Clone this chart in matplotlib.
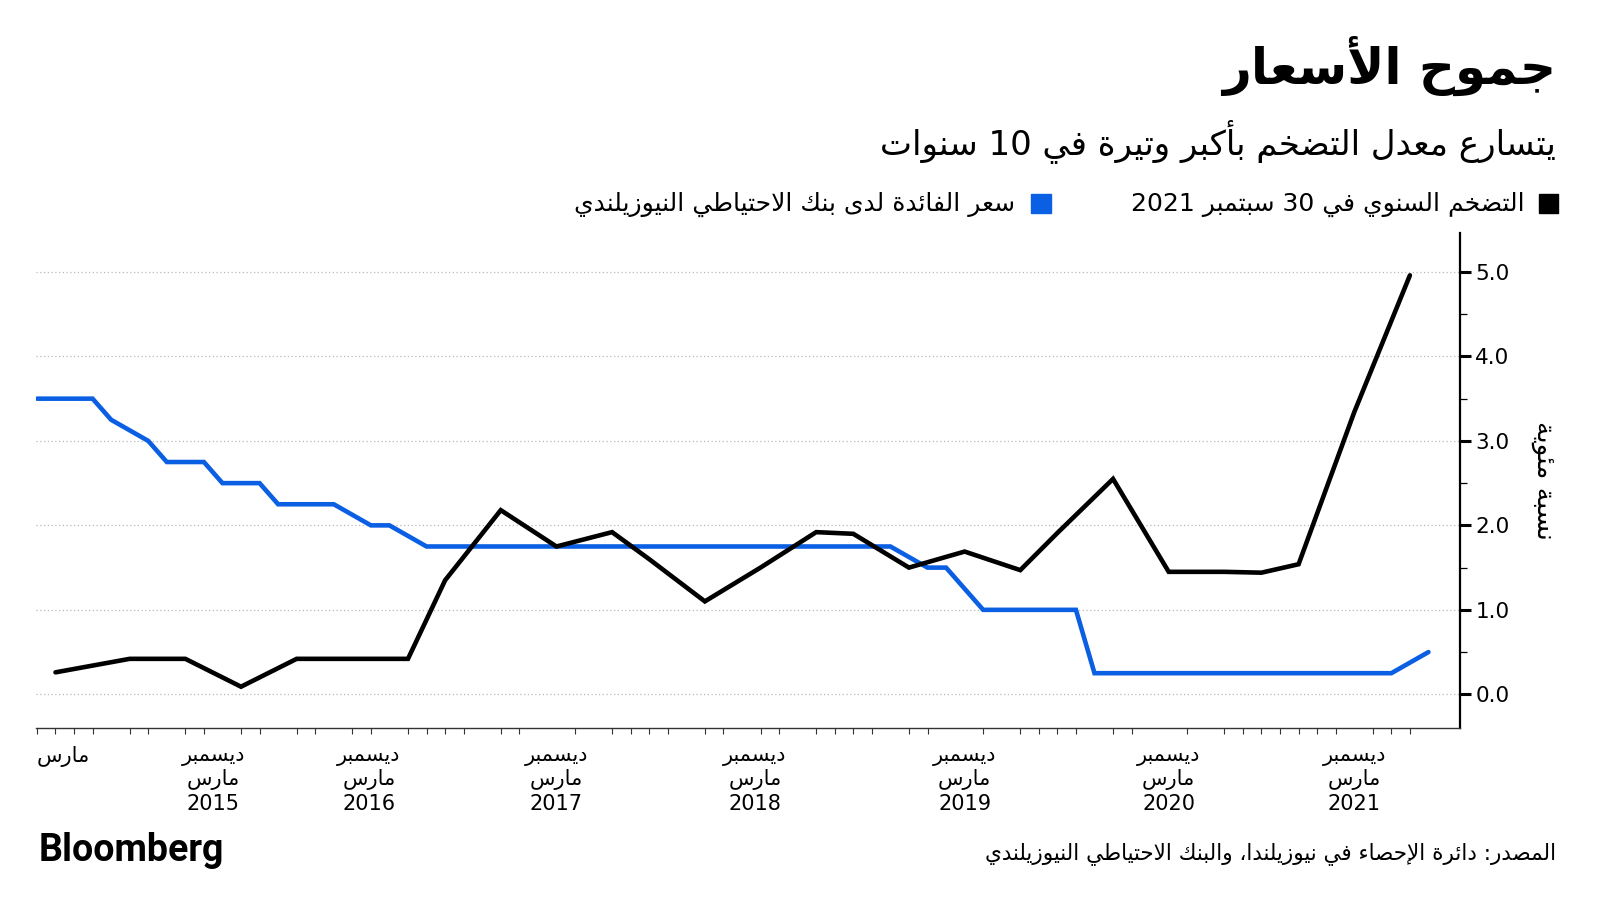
import re
import matplotlib
matplotlib.use("Agg")
import matplotlib.pyplot as plt
from matplotlib.patches import Rectangle
from matplotlib.ticker import MultipleLocator, FormatStrFormatter

# positions are slots on the chart's own (uneven) date axis, values in percent
cpi_x = [1, 5, 8, 11, 14, 20, 22, 25, 28, 31, 33, 36, 39, 42, 44, 47, 50, 53, 55, 58, 61, 64, 66, 68, 71, 74]
cpi = [0.26, 0.42, 0.42, 0.09, 0.42, 0.42, 1.35, 2.18, 1.75, 1.92, 1.60, 1.10, 1.50, 1.92, 1.90,
       1.50, 1.69, 1.47, 1.91, 2.55, 1.45, 1.45, 1.44, 1.54, 3.34, 4.96]
ocr_x = [0, 3, 4, 6, 7, 9, 10, 12, 13, 16, 18, 19, 21, 46, 48, 49, 51, 56, 57, 73, 75]
ocr = [3.5, 3.5, 3.25, 3.0, 2.75, 2.75, 2.5, 2.5, 2.25, 2.25, 2.0, 2.0, 1.75, 1.75,
       1.5, 1.5, 1.0, 1.0, 0.25, 0.25, 0.5]

tick_slots = [0, 1, 2, 3, 5, 6, 8, 9, 11, 12, 14, 15, 17, 18, 20, 21, 22, 23, 25, 26, 28, 29,
              31, 32, 33, 34, 36, 37, 39, 40, 42, 43, 44, 45, 47, 48, 50, 51, 53, 54, 55, 56,
              58, 59, 61, 62, 64, 65, 66, 67, 68, 69, 70, 71, 72, 73, 74]
label_slots = [1.4, 9.5, 17.9, 28, 38.7, 50, 61, 71]
label_years = ["", "2015", "2016", "2017", "2018", "2019", "2020", "2021"]

title = "جموح الأسعار"
subtitle = "يتسارع معدل التضخم بأكبر وتيرة في 10 سنوات"
legend_cpi = "التضخم السنوي في 30 سبتمبر 2021"
legend_ocr = "سعر الفائدة لدى بنك الاحتياطي النيوزيلندي"
source = "المصدر: دائرة الإحصاء في نيوزيلندا، والبنك الاحتياطي النيوزيلندي"
ylabel = "نسبة مئوية"

BLUE = "#0a5fe3"

# --- tiny arabic shaper: matplotlib has no complex text layout ---
DUAL = {'ئ': 0xFE89, 'ب': 0xFE8F, 'ت': 0xFE95, 'ث': 0xFE99, 'ج': 0xFE9D, 'ح': 0xFEA1,
        'خ': 0xFEA5, 'س': 0xFEB1, 'ش': 0xFEB5, 'ص': 0xFEB9, 'ض': 0xFEBD, 'ط': 0xFEC1,
        'ظ': 0xFEC5, 'ع': 0xFEC9, 'غ': 0xFECD, 'ف': 0xFED1, 'ق': 0xFED5, 'ك': 0xFED9,
        'ل': 0xFEDD, 'م': 0xFEE1, 'ن': 0xFEE5, 'ه': 0xFEE9, 'ي': 0xFEF1}
RIGHT = {'آ': 0xFE81, 'أ': 0xFE83, 'ؤ': 0xFE85, 'إ': 0xFE87, 'ا': 0xFE8D, 'ة': 0xFE93,
         'د': 0xFEA9, 'ذ': 0xFEAB, 'ر': 0xFEAD, 'ز': 0xFEAF, 'و': 0xFEED, 'ى': 0xFEEF}
LAM_ALEF = {'آ': 0xFEF5, 'أ': 0xFEF7, 'إ': 0xFEF9, 'ا': 0xFEFB}


def shape(s):
    out = []
    i = 0
    while i < len(s):
        c = s[i]
        jp = i > 0 and s[i - 1] in DUAL
        nxt = s[i + 1] if i + 1 < len(s) else ''
        if c == 'ل' and nxt in LAM_ALEF:
            out.append(chr(LAM_ALEF[nxt] + (1 if jp else 0)))
            i += 2
            continue
        if c in DUAL:
            jn = nxt in DUAL or nxt in RIGHT
            out.append(chr(DUAL[c] + (3 if jp and jn else 1 if jp else 2 if jn else 0)))
        elif c in RIGHT:
            out.append(chr(RIGHT[c] + (1 if jp else 0)))
        else:
            out.append(c)
        i += 1
    return ''.join(out)


def ar(text):
    lines = []
    for line in text.split('\n'):
        runs = re.findall(r'[0-9A-Za-z]+|[^0-9A-Za-z]+', shape(line))
        lines.append(''.join(r if re.match(r'[0-9A-Za-z]', r) else r[::-1] for r in reversed(runs)))
    return '\n'.join(lines)


plt.rcParams['font.family'] = ['DejaVu Sans']

fig = plt.figure(figsize=(16, 9), dpi=100)
ax = fig.add_axes([0.0225, 0.191, 0.89, 0.55])

ax.plot(ocr_x, ocr, color=BLUE, lw=3.3, solid_capstyle='round', solid_joinstyle='miter', zorder=3)
ax.plot(cpi_x, cpi, color='black', lw=3.3, solid_capstyle='round', solid_joinstyle='miter', zorder=4)

ax.set_xlim(-0.05, 76.7)
ax.set_ylim(-0.40, 5.46)

ax.yaxis.tick_right()
ax.yaxis.set_major_locator(MultipleLocator(1))
ax.yaxis.set_minor_locator(MultipleLocator(0.5))
ax.yaxis.set_major_formatter(FormatStrFormatter('%.1f'))
ax.tick_params(axis='y', which='major', length=8, width=2.2, pad=3, labelsize=15.5, colors='black')
ax.tick_params(axis='y', which='minor', length=5, width=0.9)
ax.grid(axis='y', which='major', linestyle=(0, (1, 2)), color='#b8b8b8', lw=0.9)

labels = [ar("مارس")] + [ar("ديسمبر\nمارس\n") + y for y in label_years[1:]]
ax.set_xticks(label_slots, labels)
ax.set_xticks(tick_slots, minor=True)
ax.tick_params(axis='x', which='major', length=0, pad=13, labelsize=15)
ax.tick_params(axis='x', which='minor', length=4, width=0.8, color='#333333')

for side in ['top', 'left']:
    ax.spines[side].set_visible(False)
ax.spines['right'].set_linewidth(1.6)
ax.spines['bottom'].set_linewidth(1.0)
ax.spines['bottom'].set_color('#333333')

fig.text(0.9643, 0.466, ar(ylabel), rotation=270, ha='center', va='center', fontsize=19)

fig.text(0.9725, 0.927, ar(title), ha='right', va='center', fontsize=36, fontweight='bold')
fig.text(0.9725, 0.843, ar(subtitle), ha='right', va='center', fontsize=24.5)

# legend
fig.patches.append(Rectangle((0.9619, 0.763), 0.0119, 0.0211, transform=fig.transFigure,
                             color='black'))
fig.text(0.9531, 0.773, ar(legend_cpi), ha='right', va='center', fontsize=18)
fig.patches.append(Rectangle((0.6444, 0.763), 0.0125, 0.0211, transform=fig.transFigure,
                             color=BLUE))
fig.text(0.6344, 0.773, ar(legend_ocr), ha='right', va='center', fontsize=18)

fig.text(0.9725, 0.052, ar(source), ha='right', va='center', fontsize=15.5)
fig.text(0.024, 0.055, "Bloomberg", ha='left', va='center', fontsize=27,
         fontweight='bold', family=['Roboto', 'DejaVu Sans'])

fig.savefig("out.png", dpi=100, facecolor='white')
